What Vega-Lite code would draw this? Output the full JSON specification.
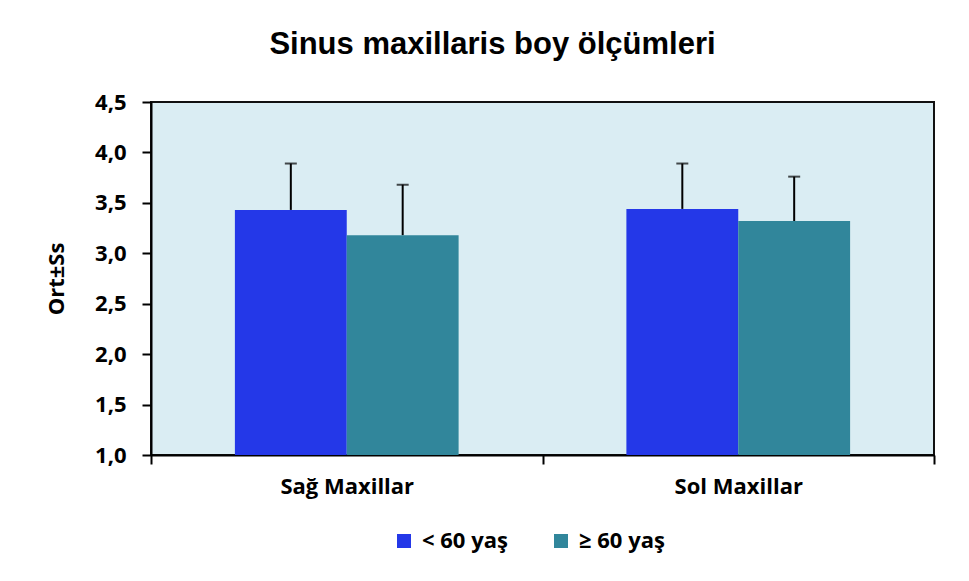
{
  "$schema": "https://vega.github.io/schema/vega-lite/v6.json",
  "width": 783,
  "height": 353,
  "autosize": {"type": "none"},
  "padding": {"left": 151, "top": 102, "right": 35, "bottom": 126},
  "background": "white",
  "title": {"text": "Sinus maxillaris boy ölçümleri", "font": "Liberation Sans", "fontSize": 31, "fontWeight": "bold", "color": "black", "anchor": "middle", "frame": "group", "offset": 30, "dx": -50},
  "config": {
    "view": {"fill": "#DAEDF3", "stroke": "#111111", "strokeWidth": 2},
    "axis": {"labelFont": "Open Sans", "labelFontWeight": "bold", "labelFontSize": 22, "labelColor": "black", "titleFont": "Open Sans", "titleFontWeight": "bold", "titleFontSize": 22, "titleColor": "black", "domainColor": "black", "domainWidth": 2, "tickColor": "black", "tickWidth": 2, "tickSize": 9, "grid": false},
    "legend": {"labelFont": "Open Sans", "labelFontWeight": "bold", "labelFontSize": 22, "labelColor": "black"}
  },
  "data": {"values": [
    {"taraf": "Sağ Maxillar", "grup": "< 60 yaş", "ort": 3.43, "ust": 3.89},
    {"taraf": "Sağ Maxillar", "grup": "≥ 60 yaş", "ort": 3.18, "ust": 3.68},
    {"taraf": "Sol Maxillar", "grup": "< 60 yaş", "ort": 3.44, "ust": 3.89},
    {"taraf": "Sol Maxillar", "grup": "≥ 60 yaş", "ort": 3.32, "ust": 3.76}
  ]},
  "encoding": {
    "x": {"field": "taraf", "type": "nominal", "sort": ["Sağ Maxillar", "Sol Maxillar"], "scale": {"paddingInner": 0, "paddingOuter": 0}, "axis": {"title": null, "labelAngle": 0, "tickBand": "extent", "labelPadding": 12}},
    "xOffset": {"field": "grup", "type": "nominal", "sort": ["< 60 yaş", "≥ 60 yaş"], "scale": {"paddingInner": 0, "paddingOuter": 0.75}}
  },
  "layer": [
    {
      "mark": {"type": "bar"},
      "encoding": {
        "y": {"field": "ort", "type": "quantitative", "scale": {"domain": [1, 4.5], "nice": false, "zero": false}, "axis": {"title": "Ort±Ss", "values": [1, 1.5, 2, 2.5, 3, 3.5, 4, 4.5], "labelExpr": "replace(format(datum.value, '.1f'), '.', ',')", "labelPadding": 16, "titlePadding": 26}},
        "y2": {"datum": 1},
        "color": {"field": "grup", "type": "nominal", "sort": ["< 60 yaş", "≥ 60 yaş"], "scale": {"range": ["#2438E8", "#31869B"]}, "legend": {"title": null, "orient": "none", "legendX": 242, "legendY": 428, "direction": "horizontal", "symbolType": "square", "symbolSize": 196, "symbolStrokeWidth": 0, "symbolOpacity": 1, "labelOffset": 7, "columnPadding": 42}}
      }
    },
    {
      "mark": {"type": "rule", "color": "black", "strokeWidth": 2},
      "encoding": {"y": {"field": "ort", "type": "quantitative"}, "y2": {"field": "ust"}}
    },
    {
      "mark": {"type": "tick", "color": "black", "size": 12, "thickness": 2},
      "encoding": {"y": {"field": "ust", "type": "quantitative"}}
    }
  ]
}
